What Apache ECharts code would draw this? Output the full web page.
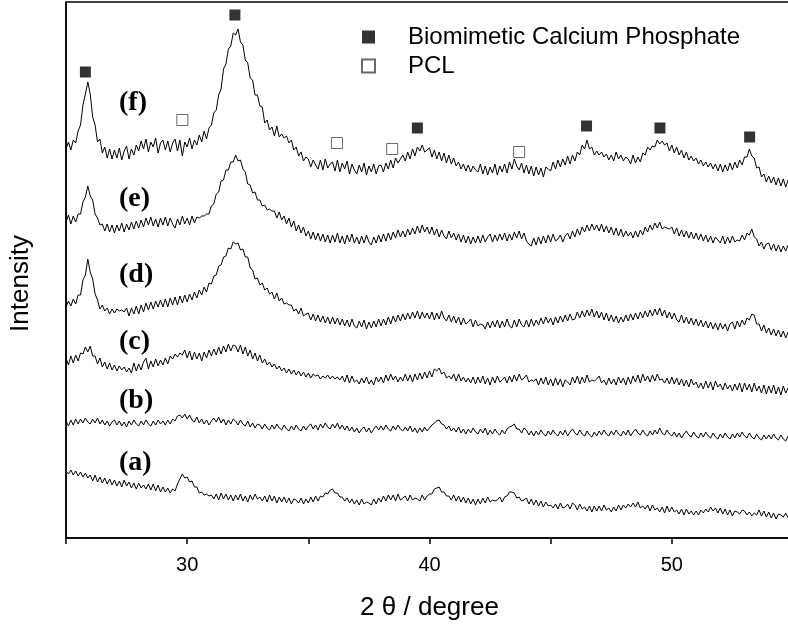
<!DOCTYPE html>
<html>
<head>
<meta charset="utf-8">
<script src="https://cdn.jsdelivr.net/npm/echarts@6/dist/echarts.min.js"></script>
<style>html,body{margin:0;padding:0;background:#fff;overflow:hidden;}#c{width:796px;height:628px;}</style>
</head>
<body>
<div id="c"></div>
<script>
// Scan grid (2θ, degrees): uniform step of the diffractometer
const scanStart = 25.0;
const scanStep = 0.1;
const scanCount = 301;

// Offset intensities (arbitrary units), one value per 0.1°
const curveF = [
389,396,388,398,395,407,413,433,444,456,
444,421,413,396,399,385,391,380,389,379,
388,380,390,378,387,392,379,389,383,393,
387,397,389,399,386,396,391,400,385,395,
398,388,397,386,395,399,387,398,382,396,
391,400,389,398,393,403,396,407,399,410,
413,425,428,443,449,469,474,489,492,505,
503,509,496,493,478,475,460,458,443,443,
432,431,415,418,408,411,402,412,401,404,
400,402,395,398,388,391,382,386,377,381,
379,371,378,373,369,378,368,379,370,374,
376,367,378,366,375,369,377,364,374,368,
364,373,366,375,363,372,366,374,364,372,
373,366,375,369,378,370,380,375,379,383,
377,386,379,389,382,391,387,393,386,388,
390,381,388,379,386,377,385,375,383,374,
380,372,376,369,374,367,373,366,372,368,
366,374,364,372,363,371,365,374,363,372,
366,374,365,376,369,379,372,368,375,365,
373,364,372,362,371,363,370,361,371,369,
367,376,369,378,371,379,373,382,374,383,
377,386,383,393,389,398,389,391,383,387,
383,386,381,384,378,383,377,386,379,383,
377,381,379,374,383,375,381,376,385,383,
391,388,392,391,398,394,397,393,395,387,
393,385,391,383,388,380,386,378,382,377,
380,374,378,372,376,371,375,369,374,367,
374,366,373,367,375,368,376,370,378,373,
381,381,389,382,380,370,371,361,364,356,
362,355,361,353,360,352,359,351,358,352,
355];
const curveE = [
316,323,314,322,316,324,324,336,341,352,
342,338,324,320,313,314,307,314,306,313,
305,313,307,315,306,314,308,316,309,317,
310,318,311,320,313,321,312,319,311,320,
313,321,312,320,314,310,319,313,322,314,
320,313,322,315,321,320,322,322,324,324,
332,334,344,346,357,358,368,368,376,376,
383,377,378,369,366,354,353,345,346,338,
338,332,333,328,329,327,327,320,326,318,
322,314,320,311,317,307,313,305,311,302,
307,299,306,298,305,297,304,296,303,295,
303,296,305,295,302,294,303,296,304,295,
301,294,302,295,303,296,293,301,295,303,
296,304,297,305,298,306,300,308,301,307,
301,309,303,310,304,312,305,313,306,311,
304,311,303,309,301,308,302,299,307,300,
305,298,304,296,303,295,302,294,301,295,
302,295,303,296,301,304,296,303,297,304,
298,305,297,304,298,306,300,307,299,305,
297,294,292,300,293,301,294,302,295,303,
296,304,297,299,303,296,302,305,299,307,
301,309,303,311,306,313,307,314,308,313,
307,314,306,312,305,311,303,310,302,309,
301,307,302,306,300,307,301,308,303,311,
306,313,308,315,310,316,309,311,310,309,
311,304,310,302,308,301,307,300,306,299,
305,298,304,297,303,296,302,295,301,298,
295,302,294,301,295,302,296,298,297,303,
298,305,303,309,301,299,292,296,289,294,
295,288,294,287,293,286,292,287,293,286,
292];
const curveD = [
231,237,232,239,234,243,243,258,263,279,
266,259,244,238,229,233,227,230,224,229,
225,229,227,228,226,230,222,230,224,232,
224,233,226,235,228,236,229,237,231,238,
231,239,231,240,233,241,233,242,235,243,
236,244,238,246,240,248,243,251,246,255,
254,262,263,272,273,281,282,290,289,296,
294,295,288,289,281,281,270,268,259,260,
253,255,248,250,244,246,239,245,237,240,
234,235,233,233,227,229,224,230,222,224,
225,218,224,217,223,216,222,215,221,214,
221,214,220,213,219,212,218,211,219,212,
210,217,211,218,209,216,210,217,211,219,
212,219,213,221,214,222,216,223,217,224,
218,225,219,226,220,227,219,226,220,225,
219,226,218,225,219,227,220,217,223,216,
222,215,221,213,220,214,216,219,211,218,
212,214,213,209,216,210,217,211,218,210,
217,211,219,212,210,218,211,219,213,211,
218,211,219,212,218,213,220,214,221,215,
220,213,221,215,222,216,223,217,224,218,
219,226,220,227,221,228,222,229,221,227,
220,226,218,225,217,223,216,222,215,221,
216,223,217,224,218,225,219,226,220,227,
221,228,222,229,223,230,222,228,220,226,
219,225,218,216,223,215,221,214,220,213,
219,212,218,211,217,210,216,209,215,208,
215,209,214,207,214,216,209,217,211,218,
213,220,218,224,223,214,214,207,213,205,
210,203,209,202,208,201,207,200,206,199,
205];
const curveC = [
180,173,182,175,183,177,185,184,191,186,
192,182,182,174,180,171,176,169,175,168,
173,167,172,168,171,166,170,165,175,167,
174,168,176,180,169,177,171,179,172,178,
173,180,174,182,179,184,181,185,183,188,
180,187,178,186,179,185,177,186,180,188,
182,189,183,191,184,192,186,194,187,193,
192,186,193,184,191,182,188,179,185,177,
183,175,179,173,176,171,174,169,172,167,
170,165,169,164,168,163,167,162,166,161,
165,160,164,162,163,159,162,160,163,159,
162,159,161,158,162,156,163,155,162,156,
158,154,160,155,161,154,158,153,161,156,
161,155,163,157,164,158,162,156,161,157,
164,157,163,156,164,158,165,159,166,160,
167,161,169,167,170,164,166,160,162,159,
164,157,164,157,161,156,160,155,161,154,
161,155,162,154,160,153,161,155,162,156,
158,161,155,162,156,163,157,164,158,160,
163,156,158,157,159,153,160,154,161,153,
159,152,160,153,159,151,158,156,153,161,
155,162,154,161,155,163,156,158,157,159,
162,155,158,153,160,154,159,153,161,155,
160,153,161,154,162,156,163,155,164,157,
162,156,163,157,164,158,159,155,160,154,
161,154,160,153,159,152,158,151,159,153,
156,150,155,149,157,150,156,148,157,151,
154,148,155,149,153,147,154,148,155,146,
155,148,154,146,155,147,152,145,153,144,
152,145,153,144,151,143,152,145,150,143,
149];
const curveB = [
117,112,118,113,119,114,119,115,120,116,
114,119,115,120,114,118,113,117,112,116,
118,113,117,112,116,111,117,113,118,114,
112,117,113,118,114,112,117,113,118,114,
117,113,118,114,119,117,122,123,120,124,
119,123,118,116,121,115,119,114,118,113,
117,120,116,121,115,119,113,118,114,119,
117,113,118,114,112,117,111,115,110,114,
113,109,114,110,108,113,109,114,110,108,
113,109,107,112,108,113,109,107,112,108,
112,114,109,113,108,114,110,115,111,109,
114,110,115,109,113,108,112,107,111,106,
110,105,109,111,106,110,105,109,112,108,
112,108,113,109,107,112,108,113,109,107,
111,107,112,106,110,105,110,106,111,107,
110,113,115,117,118,114,113,109,112,107,
110,106,111,105,109,104,109,105,110,106,
104,109,105,110,103,108,104,109,105,103,
108,104,109,111,112,114,109,109,105,110,
108,103,107,102,107,103,108,104,102,107,
103,108,104,102,107,103,108,102,106,109,
105,103,108,104,102,107,103,101,106,102,
107,103,108,104,102,107,103,108,104,102,
107,103,108,102,106,109,105,103,108,104,
102,107,103,108,104,110,105,103,108,104,
102,106,101,105,100,104,107,103,101,106,
102,100,105,101,106,102,100,105,101,99,
104,100,105,101,99,104,100,105,101,106,
102,100,105,101,99,104,100,98,103,99,
103,99,104,100,98,103,99,97,102,98,
101];
const curveA = [
67,64,68,63,67,62,66,61,65,60,
63,57,63,56,61,55,60,54,59,53,
58,52,57,51,58,52,56,50,55,49,
55,50,53,49,54,48,54,47,53,46,
51,46,50,45,49,47,54,59,64,60,
61,56,57,51,51,45,46,43,44,42,
43,39,44,38,45,39,44,38,43,37,
43,38,44,37,42,36,43,38,44,39,
41,37,42,36,43,37,42,35,41,36,
41,35,40,34,39,38,35,40,34,39,
35,41,36,42,37,42,41,45,44,48,
49,45,45,41,41,37,40,35,39,34,
38,33,39,34,36,35,33,39,34,40,
36,42,37,43,38,43,37,44,38,40,
42,37,43,38,40,39,37,43,38,42,
44,44,49,50,51,46,46,42,42,38,
43,37,42,36,41,35,40,34,39,33,
39,34,40,35,41,36,38,37,38,41,
36,41,42,46,46,45,40,41,37,38,
40,34,39,33,38,32,37,31,36,32,
33,30,34,29,35,30,31,34,29,35,
33,28,34,29,31,27,32,26,32,27,
32,27,33,28,30,26,31,27,33,28,
33,30,34,31,35,31,36,30,32,29,
33,27,33,28,30,26,31,25,32,26,
31,26,28,24,29,23,29,24,27,23,
27,23,28,25,29,26,31,27,30,25,
30,24,29,23,28,22,27,26,24,28,
27,23,26,22,25,23,28,22,27,21,
26,20,25,19,24,23,21,25,20,24,
21];

// Peak markers [2θ, height]
const capPeaks = [[25.80,466],[31.97,523],[39.50,410],[46.48,412],[49.51,410],[53.21,401]];
const pclPeaks = [[29.80,418],[36.18,395],[38.46,389],[43.70,386]];

// Curve labels, tick labels, legend
const curveNames = ['(a)','(b)','(c)','(d)','(e)','(f)'];
const xTicks = ['30','40','50'];
const legendNames = ['Biomimetic Calcium Phosphate','PCL'];

const angles = [];
for (let i = 0; i < scanCount; i++) angles.push(+(scanStart + i * scanStep).toFixed(2));
const curves = [curveA, curveB, curveC, curveD, curveE, curveF];

const chart = echarts.init(document.getElementById('c'), null, {renderer: 'canvas'});
const sans = 'Arial, "Liberation Sans", sans-serif';
const serif = '"Times New Roman", "Liberation Serif", serif';

const lineSeries = curves.map((arr, k) => ({
  name: curveNames[k],
  type: 'line',
  data: angles.map((t, i) => [t, arr[i]]),
  showSymbol: false,
  symbol: 'none',
  lineStyle: {color: '#000', width: 1},
  itemStyle: {color: '#000'},
  z: 2,
  silent: true
}));

const labelCenters = [463, 401, 342, 275, 199, 103];

chart.setOption({
  animation: false,
  backgroundColor: '#fff',
  grid: {left: 65, right: 3, top: 2, bottom: 90, show: true, borderColor: '#000', borderWidth: 1.5},
  xAxis: {
    type: 'value', min: 25, max: 55, interval: 5,
    name: '2 \u03b8 / degree', nameLocation: 'middle', nameGap: 57,
    nameTextStyle: {fontFamily: sans, fontSize: 26, color: '#000'},
    axisLine: {show: true, lineStyle: {color: '#000', width: 1.5}},
    axisTick: {show: true, length: 6, lineStyle: {color: '#000', width: 1.5}},
    axisLabel: {
      margin: 17, fontFamily: sans, fontSize: 20, color: '#000',
      formatter: v => (xTicks.indexOf(String(v)) >= 0 ? String(v) : '')
    },
    splitLine: {show: false}
  },
  yAxis: {
    type: 'value', min: 0, max: 536,
    name: 'Intensity', nameLocation: 'middle', nameGap: 32,
    nameTextStyle: {fontFamily: sans, fontSize: 26, color: '#000', padding: [0, 27, 0, 0]},
    axisLine: {show: true, lineStyle: {color: '#000', width: 1.5}},
    axisTick: {show: false}, axisLabel: {show: false}, splitLine: {show: false}
  },
  legend: {
    data: legendNames, orient: 'vertical', left: 356, top: 20,
    itemWidth: 13, itemHeight: 13, itemGap: 5,
    textStyle: {fontFamily: sans, fontSize: 24, color: '#000', padding: [0, 0, 0, 28]},
    selectedMode: false
  },
  series: lineSeries.concat([
    {name: legendNames[0], type: 'scatter', data: capPeaks, symbol: 'rect', symbolSize: 11,
     itemStyle: {color: '#000'}, z: 5, silent: true},
    {name: legendNames[1], type: 'scatter', data: pclPeaks, symbol: 'rect', symbolSize: 11,
     itemStyle: {color: '#fff', borderColor: '#444', borderWidth: 1}, z: 5, silent: true}
  ]),
  graphic: curveNames.map((n, k) => ({
    type: 'text', left: 119, top: labelCenters[k] - 14,
    style: {text: n, font: 'bold 28px ' + serif, fill: '#000'}
  }))
});
</script>
</body>
</html>
